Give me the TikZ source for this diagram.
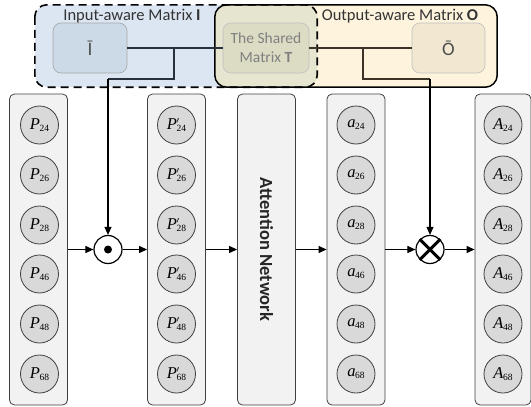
\documentclass[tikz,border=0pt]{standalone}
\usepackage{fontspec}
\setmainfont{Carlito}
\newfontfamily\serifx{Liberation Serif}
\usetikzlibrary{arrows.meta}
\definecolor{inblue}{HTML}{DCE6F2}
\definecolor{inbox}{HTML}{CCD9E6}
\definecolor{outyel}{HTML}{FEF4DE}
\definecolor{outbox}{HTML}{F2E8D2}
\definecolor{overlap}{HTML}{E6E6D0}
\definecolor{sharedbox}{HTML}{DCDCC5}
\definecolor{colfill}{HTML}{F2F2F2}
\definecolor{circfill}{HTML}{D9D9D9}
\definecolor{edgegray}{HTML}{404040}
\definecolor{conleft}{HTML}{27313D}
\definecolor{conright}{HTML}{3D3326}
\newcommand{\clab}[2]{{\serifx\fontsize{16.5}{16.5}\selectfont\itshape #1\/}\kern-0.5pt\raisebox{-0.45ex}{\serifx\fontsize{9.5}{9.5}\selectfont #2}}
\newcommand{\clabp}[2]{{\serifx\fontsize{16.5}{16.5}\selectfont\itshape #1\/}\kern-0.5pt\rlap{\raisebox{1.35ex}{\fontsize{9.5}{9.5}\selectfont$\prime$}}\raisebox{-0.45ex}{\serifx\fontsize{9.5}{9.5}\selectfont #2}}
\begin{document}
\begin{tikzpicture}[x=1pt,y=-1pt,
  colbox/.style={rectangle,rounded corners=5pt,draw=edgegray,line width=0.8pt,fill=colfill,minimum width=58pt,minimum height=311pt,inner sep=0pt},
  elem/.style={circle,draw=edgegray,line width=0.8pt,fill=circfill,minimum size=38pt,inner sep=0pt},
  inner/.style={rectangle,rounded corners=8pt,draw=#1,line width=0.6pt,minimum width=74pt,minimum height=50pt,inner sep=0pt},
  arr/.style={-{Triangle[length=8pt,width=7pt]},line width=1.1pt,black},
  op/.style={circle,draw=black,line width=1.2pt,fill=white,minimum size=28pt,inner sep=0pt},
  toptext/.style={font=\fontsize{16.5}{19}\selectfont,text=black!80}]
\useasboundingbox (0,0) rectangle (531,407);
% regions
\node[rectangle,rounded corners=12pt,fill=inblue,minimum width=282pt,minimum height=82pt,inner sep=0pt] (inreg) at (176,46) {};
\node[rectangle,rounded corners=12pt,fill=outyel,minimum width=282pt,minimum height=82pt,inner sep=0pt] (outreg) at (356,46) {};
\begin{scope}
  \clip[rounded corners=12pt] (inreg.south west) rectangle (inreg.north east);
  \fill[overlap,rounded corners=12pt] (outreg.south west) rectangle (outreg.north east);
\end{scope}
\draw[black,line width=1.5pt,rounded corners=12pt] (outreg.south west) rectangle (outreg.north east);
\draw[black,line width=1.6pt,dash pattern=on 8pt off 5pt,rounded corners=12pt] (inreg.north west) rectangle (inreg.south east);
\node[toptext] (inlab) at (132,16) {Input-aware Matrix \textbf{I}};
\node[toptext] (outlab) at (400,16) {Output-aware Matrix \textbf{O}};
% inner boxes
\node[inner=black!35,fill=inbox,font=\fontsize{19}{19}\selectfont,text=black!70] (ibar) at (90,48) {Ī};
\node[inner=black!25,fill=sharedbox,minimum width=86pt,font=\fontsize{15.5}{19}\selectfont,text=black!50,align=center] (shared) at (266,48) {The Shared\\Matrix \textbf{T}};
\node[inner=black!25,fill=outbox,minimum width=73pt,font=\fontsize{19}{19}\selectfont,text=black!70] (obar) at (448.5,48) {Ō};
% columns
\node[colbox] (c1) at (38.5,249.5) {};
\node[colbox] (c2) at (176.5,249.5) {};
\node[colbox,font=\bfseries\fontsize{18.5}{18.5}\selectfont,text=black!85] (att) at (266.5,249.5) {\rotatebox{-90}{Attention Network}};
\node[colbox] (c4) at (356,249.5) {};
\node[colbox,minimum width=56pt] (c5) at (503,249.5) {};
% elements
\foreach \s/\y [count=\i] in {24/125,26/175,28/225,46/274,48/324,68/374}{
  \node[elem] (p\i) at (39.5,\y) {\clab{P}{\s}};
  \node[elem] (q\i) at (176.5,\y) {\clabp{P}{\s}};
  \node[elem] (a\i) at (356,\y) {\clab{a}{\s}};
  \node[elem] (A\i) at (503,\y) {\clab{A}{\s}};
}
% operators
\node[op] (odot) at (108,249.5) {};
\fill (odot.center) circle (4pt);
\node[op] (otimes) at (430,249.5) {};
\draw[line width=3pt] (otimes.north east) -- (otimes.south west);
\draw[line width=3pt] (otimes.north west) -- (otimes.south east);
% connectors from matrices
\coordinate (bl) at (174,48);
\coordinate (blt) at (174,79);
\coordinate (bld) at (108,79);
\coordinate (br) at (363,48);
\coordinate (brt) at (363,79);
\coordinate (brd) at (430,79);
\draw[conleft,line width=1.1pt] (ibar.east) -- (shared.west);
\draw[conleft,line width=1.1pt] (bl) -- (blt) -- (bld);
\draw[arr] (bld) -- (odot.north);
\draw[conright,line width=1.1pt] (shared.east) -- (obar.west);
\draw[conright,line width=1.1pt] (br) -- (brt) -- (brd);
\draw[arr] (brd) -- (otimes.north);
% horizontal arrows
\draw[arr] (c1.east) -- (odot.west);
\draw[arr] (odot.east) -- (c2.west);
\draw[arr] (c2.east) -- (att.west);
\draw[arr] (att.east) -- (c4.west);
\draw[arr] (c4.east) -- (otimes.west);
\draw[arr] (otimes.east) -- (c5.west);
\end{tikzpicture}
\end{document}
